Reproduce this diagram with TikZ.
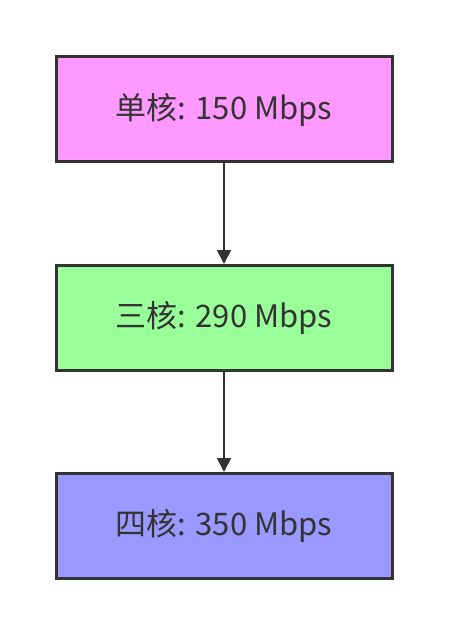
\documentclass[tikz,border=0pt]{standalone}
\usepackage{fontspec}
\setmainfont{Noto Sans CJK SC}
\usetikzlibrary{arrows.meta}
\definecolor{edge}{HTML}{333333}
\definecolor{cpink}{HTML}{FF99FF}
\definecolor{cgreen}{HTML}{99FF99}
\definecolor{cblue}{HTML}{9999FF}
\begin{document}
\begin{tikzpicture}[x=1pt,y=-1pt,
  box/.style={draw=edge,line width=3pt,minimum width=336pt,minimum height=105pt,inner sep=0pt,text=edge,font=\fontsize{31pt}{35pt}\selectfont},
  conn/.style={draw=edge,line width=1.6pt,-{Triangle[width=14pt,length=14pt]}}]
\useasboundingbox (0,0) rectangle (448,636);
\node[box,fill=cpink] (a) at (224,109.5) {单核: 150 Mbps};
\node[box,fill=cgreen] (b) at (224,318) {三核: 290 Mbps};
\node[box,fill=cblue] (c) at (224,526) {四核: 350 Mbps};
\draw[conn] (a) -- (b);
\draw[conn] (b) -- (c);
\end{tikzpicture}
\end{document}
